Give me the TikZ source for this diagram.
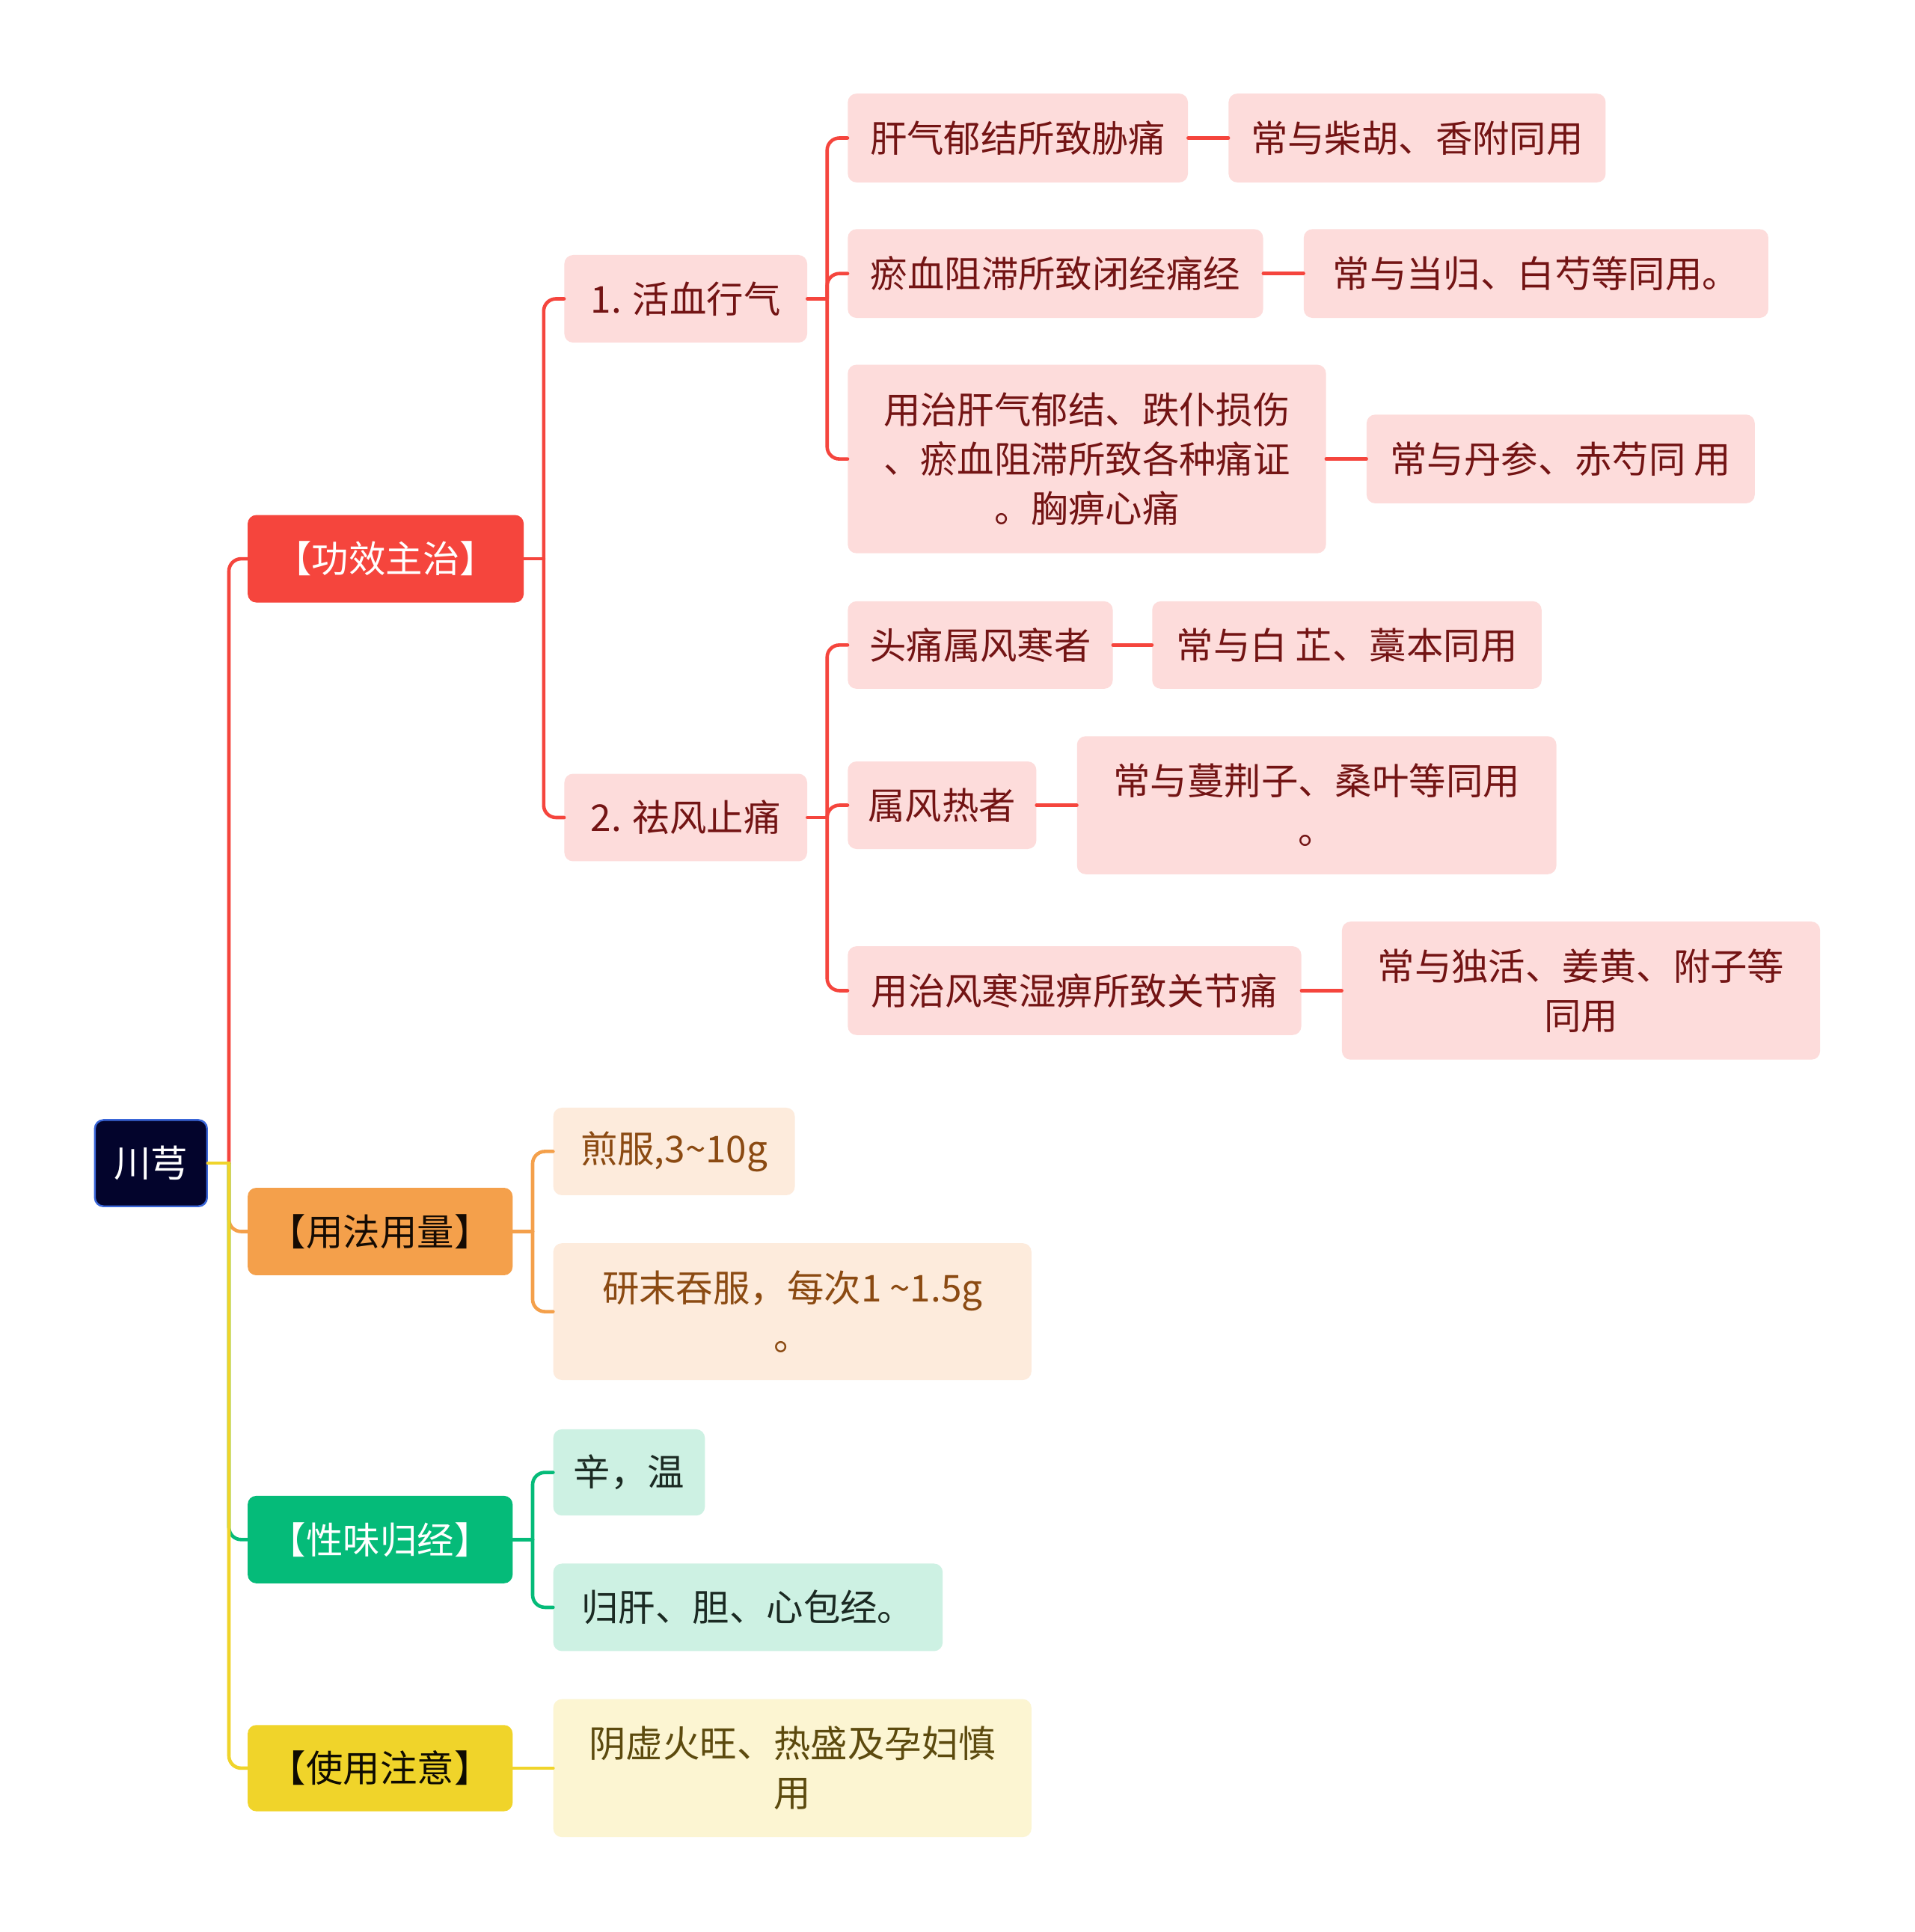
\documentclass[tikz,border=0pt]{standalone}
\usepackage{fontspec}
\setmainfont{Noto Sans CJK SC}
\usetikzlibrary{calc}
\definecolor{cRed}{HTML}{F5453D}
\definecolor{cPink}{HTML}{FDDCDB}
\definecolor{cRedTxt}{HTML}{731414}
\definecolor{cOrange}{HTML}{F4A04B}
\definecolor{cOrangeL}{HTML}{FDEBDC}
\definecolor{cOrangeTxt}{HTML}{8B4A12}
\definecolor{cGreen}{HTML}{05BB79}
\definecolor{cGreenL}{HTML}{CDF1E3}
\definecolor{cGreenTxt}{HTML}{1B2A23}
\definecolor{cYellow}{HTML}{F0D42A}
\definecolor{cYellowL}{HTML}{FCF5D2}
\definecolor{cYellowTxt}{HTML}{5C4A0E}
\definecolor{cRoot}{HTML}{03042C}
\definecolor{cRootBorder}{HTML}{3A66D8}
\begin{document}
\begin{tikzpicture}[x=1pt,y=-1pt,
  every node/.style={font=\fontsize{30}{40}\selectfont, align=center, inner sep=0pt, rounded corners=7pt},
  rootbox/.style={fill=cRoot, draw=cRootBorder, line width=1.5pt, text=white},
  redhead/.style={fill=cRed, text=white},
  orangehead/.style={fill=cOrange, text=black!85!cOrangeTxt},
  greenhead/.style={fill=cGreen, text=white},
  yellowhead/.style={fill=cYellow, text=black!85!cYellowTxt},
  pinkbox/.style={fill=cPink, text=cRedTxt},
  orangebox/.style={fill=cOrangeL, text=cOrangeTxt},
  greenbox/.style={fill=cGreenL, text=cGreenTxt},
  yellowbox/.style={fill=cYellowL, text=cYellowTxt},
  conn/.style={line width=2.8pt, line cap=round},
  elbow/.style={conn, rounded corners=10pt},
]
\useasboundingbox (0,0) rectangle (1554,1568);
\fill[white] (0,0) rectangle (1554,1568);

% nodes
\node[rootbox, minimum width=91pt, minimum height=70pt] (root) at (122.5,944) {川芎};

\node[redhead, minimum width=224pt, minimum height=71pt] (g1) at (313,453.5) {【功效主治】};
\node[orangehead, minimum width=215pt, minimum height=71pt] (g2) at (308.5,999.5) {【用法用量】};
\node[greenhead, minimum width=215pt, minimum height=71pt] (g3) at (308.5,1249.5) {【性味归经】};
\node[yellowhead, minimum width=215pt, minimum height=70pt] (g4) at (308.5,1435) {【使用注意】};

\node[pinkbox, minimum width=197pt, minimum height=71pt] (a1) at (556.5,242.5) {1. 活血行气};
\node[pinkbox, minimum width=197pt, minimum height=71pt] (a2) at (556.5,663.5) {2. 祛风止痛};

\node[pinkbox, minimum width=276pt, minimum height=72pt] (b1) at (826,112) {肝气郁结所致胁痛};
\node[pinkbox, minimum width=337pt, minimum height=72pt] (b2) at (856.5,222) {瘀血阻滞所致闭经痛经};
\node[pinkbox, minimum width=388pt, minimum height=153pt] (b3) at (882,372.5) {用治肝气郁结、跌仆损伤\\、瘀血阻滞所致各种痛证\\。胸痹心痛};
\node[pinkbox, minimum width=215pt, minimum height=71pt] (b4) at (795.5,523.5) {头痛属风寒者};
\node[pinkbox, minimum width=153pt, minimum height=71pt] (b5) at (764.5,653.5) {属风热者};
\node[pinkbox, minimum width=368pt, minimum height=72pt] (b6) at (872,804) {用治风寒湿痹所致关节痛};

\node[pinkbox, minimum width=306pt, minimum height=72pt] (c1) at (1150,112) {常与柴胡、香附同用};
\node[pinkbox, minimum width=377pt, minimum height=72pt] (c2) at (1246.5,222) {常与当归、白芍等同用。};
\node[pinkbox, minimum width=315pt, minimum height=72pt] (c3) at (1266.5,372.5) {常与丹参、赤芍同 用};
\node[pinkbox, minimum width=316pt, minimum height=71pt] (c4) at (1093,523.5) {常与白 芷、藁本同用};
\node[pinkbox, minimum width=389pt, minimum height=112pt] (c5) at (1068.5,653.5) {常与蔓荆子、桑叶等同用\\。};
\node[pinkbox, minimum width=388pt, minimum height=112pt] (c6) at (1283,804) {常与独活、姜黄、附子等\\同用};

\node[orangebox, minimum width=196pt, minimum height=71pt] (d1) at (547,934.5) {煎服,3\textasciitilde 10g};
\node[orangebox, minimum width=388pt, minimum height=111pt] (d2) at (643,1064.5) {研末吞服，每次1 \textasciitilde 1.5g\\。};

\node[greenbox, minimum width=123pt, minimum height=70pt] (e1) at (510.5,1195) {辛，温};
\node[greenbox, minimum width=316pt, minimum height=71pt] (e2) at (607,1304.5) {归肝、胆、心包经。};

\node[yellowbox, minimum width=388pt, minimum height=112pt] (f1) at (643,1435) {阴虚火旺、热盛及孕妇慎\\用};

% junction coordinates
\coordinate (rj) at ($(root.east)+(17,0)$);
\coordinate (j1) at ($(g1.east)+(16,0)$);
\coordinate (j2) at ($(g2.east)+(16,0)$);
\coordinate (j3) at ($(g3.east)+(16,0)$);
\coordinate (ja1) at ($(a1.east)+(16,0)$);
\coordinate (ja2) at ($(a2.east)+(16,0)$);

% root connectors
\draw[elbow, cRed] (rj) |- (g1.west);
\draw[conn, cRed] (root.east) -- (rj);
\draw[elbow, cOrange] (rj) |- (g2.west);
\draw[elbow, cGreen] (rj) |- (g3.west);
\draw[elbow, cYellow] (rj) |- (g4.west);
\draw[conn, cYellow] (root.east) -- (rj);

% red branch
\draw[conn, cRed] (g1.east) -- (j1);
\draw[elbow, cRed] (j1) |- (a1.west);
\draw[elbow, cRed] (j1) |- (a2.west);
\draw[conn, cRed] (a1.east) -- (ja1);
\draw[elbow, cRed] (ja1) |- (b1.west);
\draw[elbow, cRed] (ja1) |- (b2.west);
\draw[elbow, cRed] (ja1) |- (b3.west);
\draw[conn, cRed] (a2.east) -- (ja2);
\draw[elbow, cRed] (ja2) |- (b4.west);
\draw[elbow, cRed] (ja2) |- (b5.west);
\draw[elbow, cRed] (ja2) |- (b6.west);
\draw[conn, cRed] (b1.east) -- (c1.west);
\draw[conn, cRed] (b2.east) -- (c2.west);
\draw[conn, cRed] (b3.east) -- (c3.west);
\draw[conn, cRed] (b4.east) -- (c4.west);
\draw[conn, cRed] (b5.east) -- (c5.west);
\draw[conn, cRed] (b6.east) -- (c6.west);

% orange branch
\draw[conn, cOrange] (g2.east) -- (j2);
\draw[elbow, cOrange] (j2) |- (d1.west);
\draw[elbow, cOrange] (j2) |- (d2.west);

% green branch
\draw[conn, cGreen] (g3.east) -- (j3);
\draw[elbow, cGreen] (j3) |- (e1.west);
\draw[elbow, cGreen] (j3) |- (e2.west);

% yellow branch
\draw[conn, cYellow] (g4.east) -- (f1.west);
\end{tikzpicture}
\end{document}
